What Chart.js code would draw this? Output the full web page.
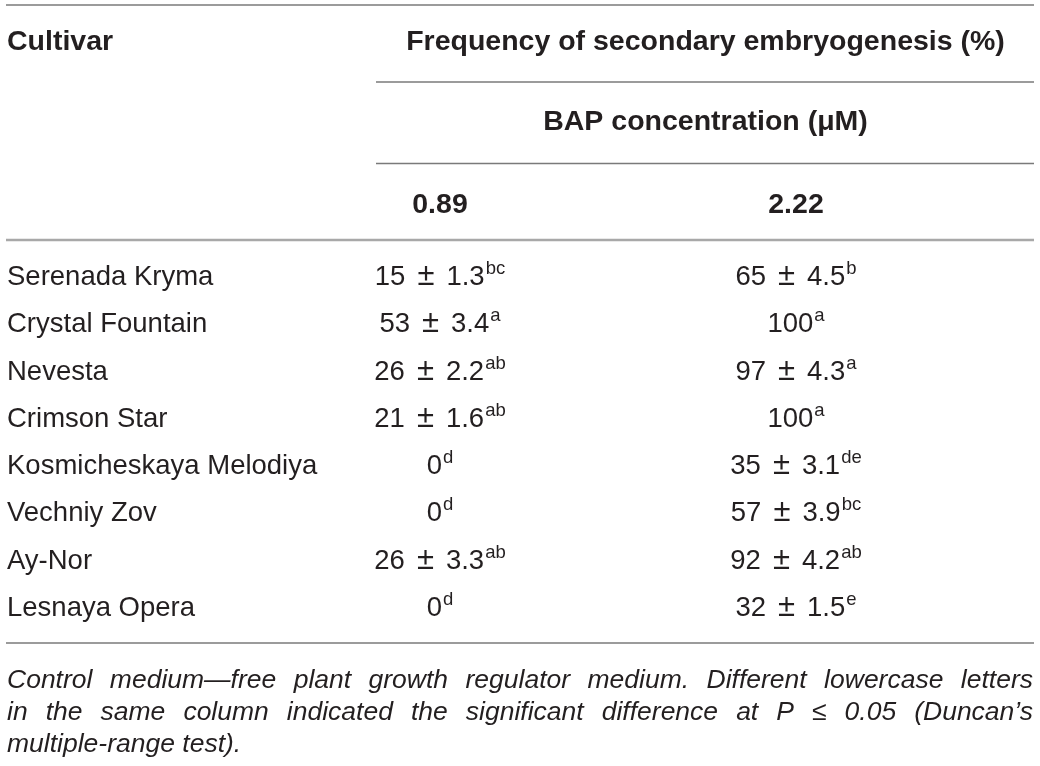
<!DOCTYPE html>
<html><head><meta charset="utf-8">
<script src="https://cdn.jsdelivr.net/npm/chart.js@4.4.1/dist/chart.umd.min.js"></script>
<style>html,body{margin:0;padding:0;background:#fff}#wrap{width:1040px;height:766px;position:relative}</style>
</head><body><div id="wrap"><canvas id="c"></canvas></div>
<script>
// ---- data ----
const cultivars = ['Serenada Kryma','Crystal Fountain','Nevesta','Crimson Star','Kosmicheskaya Melodiya','Vechniy Zov','Ay-Nor','Lesnaya Opera'];
const bapLevels = ['0.89','2.22'];
const mean089 = [15, 53, 26, 21, 0, 0, 26, 0];
const sd089   = [1.3, 3.4, 2.2, 1.6, null, null, 3.3, null];
const sig089  = ['bc','a','ab','ab','d','d','ab','d'];
const mean222 = [65, 100, 97, 100, 35, 57, 92, 32];
const sd222   = [4.5, null, 4.3, null, 3.1, 3.9, 4.2, 1.5];
const sig222  = ['b','a','a','a','de','bc','ab','e'];
const headerCultivar = 'Cultivar';
const headerGroup = 'Frequency of secondary embryogenesis (%)';
const headerSub = 'BAP concentration (\u03BCM)';
const footnoteLines = [
  'Control medium\u2014free plant growth regulator medium. Different lowercase letters',
  'in the same column indicated the significant difference at P \u2264 0.05 (Duncan\u2019s',
  'multiple-range test).'
];

// ---- build datasets ----
function cells(level, means, sds, sigs){
  return cultivars.map((c,i)=>({x:level, y:c, mean:means[i], sd:sds[i], sig:sigs[i]}));
}
const datasets = [
  {label:bapLevels[0], data:cells(bapLevels[0], mean089, sd089, sig089), pointRadius:0, pointHoverRadius:0},
  {label:bapLevels[1], data:cells(bapLevels[1], mean222, sd222, sig222), pointRadius:0, pointHoverRadius:0}
];

const TXT = '#231f20';
const FONT = '"Liberation Sans", Arial, Helvetica, sans-serif';
const F_NORMAL = '27.5px ' + FONT;
const F_PM = '31px ' + FONT;
const F_BOLD = 'bold 28.5px ' + FONT;
const F_SUP = '18.5px ' + FONT;
const F_FOOT = 'italic 26.5px ' + FONT;
const PM_GAP = 12;

function hline(ctx, x0, x1, y, w, col){
  ctx.save(); ctx.strokeStyle = col; ctx.lineWidth = w;
  ctx.beginPath(); ctx.moveTo(x0, y); ctx.lineTo(x1, y); ctx.stroke(); ctx.restore();
}
function drawCell(ctx, cx, base, parts, sup){
  const fonts = parts.map(p => p === '\u00B1' ? F_PM : F_NORMAL);
  const ws = parts.map((p,i)=>{ ctx.font = fonts[i]; return ctx.measureText(p).width; });
  const wMain = ws.reduce((a,b)=>a+b,0) + PM_GAP * (parts.length - 1);
  ctx.font = F_SUP; const w2 = ctx.measureText(sup).width;
  let x = cx - (wMain + w2 + 1) / 2;
  ctx.textAlign = 'left';
  parts.forEach((p,i)=>{ ctx.font = fonts[i]; ctx.fillText(p, x, base); x += ws[i] + (i < parts.length-1 ? PM_GAP : 0); });
  ctx.font = F_SUP; ctx.fillText(sup, x + 1, base - 11);
}
function drawJustified(ctx, text, x0, x1, y){
  const words = text.split(' ');
  const ws = words.map(w=>ctx.measureText(w).width);
  const sum = ws.reduce((a,b)=>a+b,0);
  const gap = (x1 - x0 - sum) / (words.length - 1);
  let x = x0;
  words.forEach((w,i)=>{ ctx.fillText(w, x, y); x += ws[i] + gap; });
}

const tablePlugin = {
  id:'table',
  afterDatasetsDraw(chart){
    const ctx = chart.ctx;
    const xs = chart.scales.x;
    ctx.save();
    ctx.fillStyle = TXT; ctx.textBaseline = 'alphabetic';
    // rules
    hline(ctx, 6, 1034, 5, 1.5, '#7a7a7a');
    hline(ctx, 376, 1034, 82, 1.5, '#7a7a7a');
    hline(ctx, 376, 1034, 163.5, 1.5, '#7a7a7a');
    hline(ctx, 6, 1034, 240, 2.5, '#a8a8a8');
    hline(ctx, 6, 1034, 643, 1.5, '#7a7a7a');
    // headers
    ctx.font = F_BOLD; ctx.textAlign = 'left';
    ctx.fillText(headerCultivar, 7, 50);
    ctx.textAlign = 'center';
    ctx.fillText(headerGroup, 705.5, 50);
    ctx.fillText(headerSub, 705.5, 130);
    bapLevels.forEach(l => ctx.fillText(l, xs.getPixelForValue(bapLevels.indexOf(l)), 213));
    // cultivar names and cells
    chart.data.datasets.forEach((ds, di) => {
      const meta = chart.getDatasetMeta(di);
      meta.data.forEach((el, i) => {
        const d = ds.data[i];
        const base = el.y + 10;
        if (di === 0) {
          ctx.font = F_NORMAL; ctx.textAlign = 'left';
          ctx.fillText(d.y, 7, base);
        }
        const parts = d.sd == null ? [String(d.mean)] : [String(d.mean), '\u00B1', d.sd.toFixed(1)];
        drawCell(ctx, el.x, base, parts, d.sig);
      });
    });
    // footnote
    ctx.font = F_FOOT; ctx.textAlign = 'left';
    drawJustified(ctx, footnoteLines[0], 7, 1033, 688);
    drawJustified(ctx, footnoteLines[1], 7, 1033, 720);
    ctx.fillText(footnoteLines[2], 7, 752);
    ctx.restore();
  }
};

new Chart(document.getElementById('c'), {
  type:'scatter',
  data:{datasets},
  options:{
    responsive:true, maintainAspectRatio:false, animation:false,
    layout:{padding:{left:262, right:66, top:251.36, bottom:136.36}},
    plugins:{legend:{display:false}, tooltip:{enabled:false}},
    scales:{
      x:{type:'category', labels:bapLevels, offset:true, display:false},
      y:{type:'category', labels:cultivars, offset:true, display:false}
    }
  },
  plugins:[tablePlugin]
});
</script></body></html>
